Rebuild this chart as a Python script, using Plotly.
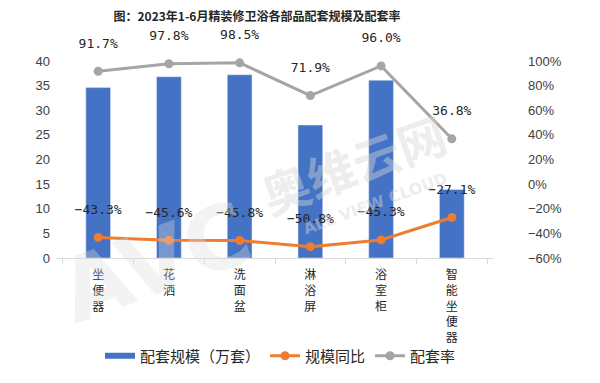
import plotly.graph_objects as go

categories = ["坐便器", "花洒", "洗面盆", "淋浴屏", "浴室柜", "智能坐便器"]
scale_values = [34.6, 36.8, 37.2, 27.0, 36.1, 13.9]          # 配套规模（万套）
yoy_values = [-43.3, -45.6, -45.8, -50.8, -45.3, -27.1]       # 规模同比 (%)
rate_values = [91.7, 97.8, 98.5, 71.9, 96.0, 36.8]            # 配套率 (%)

tick_text = ["<br>".join(list(c)) for c in categories]

def pct_labels(vals):
    return [f"{v:.1f}%".replace("-", "\u2212") for v in vals]

BLUE = "#4472C4"
ORANGE = "#ED7D31"
GRAY = "#A5A5A5"
FONT = "Noto Sans CJK SC"
LABEL_FONT = dict(family="DejaVu Sans Mono", size=13, color="#262626")

# page offset (browser body margin) compensation
OFF = 8
L, T = 57 - OFF, 61 - OFF
PR, PB = 493 - OFF, 258 - OFF           # plot right / bottom in figure px
W, H = 600, 383
PW, PH = PR - L, PB - T

def px(x):   # page x -> paper
    return (x - OFF - L) / PW

def py(y):   # page y -> paper
    return (PB - (y - OFF)) / PH

fig = go.Figure()

fig.add_trace(go.Bar(
    x=categories, y=scale_values, name="配套规模（万套）",
    marker=dict(color=BLUE), width=0.35, showlegend=False, hoverinfo="skip",
))
fig.add_trace(go.Scatter(
    x=[None], y=[None], mode="lines", name="配套规模（万套）",
    line=dict(color=BLUE, width=6),
))
for vals, name, color in [(yoy_values, "规模同比", ORANGE), (rate_values, "配套率", GRAY)]:
    fig.add_trace(go.Scatter(
        x=categories, y=vals, name=name, yaxis="y2",
        mode="lines+markers", line=dict(color=color, width=3),
        marker=dict(color=color, size=9), cliponaxis=False,
    ))
    # data labels, offset above the points
    fig.add_trace(go.Scatter(
        x=categories, y=vals, yaxis="y2", mode="markers+text",
        marker=dict(size=31, opacity=0), text=pct_labels(vals),
        textposition="top center", textfont=LABEL_FONT, cliponaxis=False,
        showlegend=False, hoverinfo="skip",
    ))

# watermark
fig.add_annotation(text="<b>奥维云网</b>", x=px(353), y=py(163),
                   xref="paper", yref="paper", showarrow=False, textangle=-20,
                   xanchor="center", yanchor="middle",
                   font=dict(family=FONT, size=48, color="rgba(215,215,215,0.45)"))
fig.add_annotation(text="<b>ALL VIEW CLOUD</b>", x=px(375), y=py(203),
                   xref="paper", yref="paper", showarrow=False, textangle=-20,
                   xanchor="center", yanchor="middle",
                   font=dict(family="DejaVu Sans", size=16, color="rgba(215,215,215,0.45)"))
fig.add_annotation(text="<b>AVC</b>", x=px(155), y=py(262),
                   xref="paper", yref="paper", showarrow=False, textangle=-20,
                   xanchor="center", yanchor="middle",
                   font=dict(family="DejaVu Sans", size=88, color="rgba(220,220,220,0.35)"))

fig.update_layout(
    width=W, height=H,
    margin=dict(l=L, r=W - PR, t=T, b=H - PB, autoexpand=False),
    paper_bgcolor="white", plot_bgcolor="white",
    font=dict(family=FONT, color="#404040"),
    title=dict(text="<b>图：2023年1-6月精装修卫浴各部品配套规模及配套率</b>",
               xref="container", yref="container",
               x=(257 - OFF) / W, y=1 - (17 - OFF) / H,
               xanchor="center", yanchor="middle",
               font=dict(family=FONT, size=12, color="#262626")),
    xaxis=dict(
        tickmode="array", tickvals=categories, ticktext=tick_text,
        showline=True, linecolor="#D9D9D9", linewidth=1,
        ticks="outside", tickson="boundaries", ticklen=5, tickcolor="#D9D9D9",
        tickfont=dict(family=FONT, size=12, color="#262626"),
        ticklabelstandoff=6, showgrid=False,
    ),
    yaxis=dict(
        range=[0, 40], tick0=0, dtick=5, showgrid=False, zeroline=False,
        tickfont=dict(family="Liberation Sans", size=13, color="#404040"),
        ticklabelstandoff=6,
    ),
    yaxis2=dict(
        range=[-60, 100], tick0=-60, dtick=20, ticksuffix="%",
        overlaying="y", side="right", showgrid=False, zeroline=False,
        tickfont=dict(family="Liberation Sans", size=13, color="#404040"),
        ticklabelstandoff=34,
    ),
    legend=dict(orientation="h", x=px(100), y=py(356),
                xanchor="left", yanchor="middle",
                font=dict(family=FONT, size=15, color="#262626"),
                bgcolor="rgba(0,0,0,0)"),
    bargap=0.65,
)

fig.write_html("out.html")
